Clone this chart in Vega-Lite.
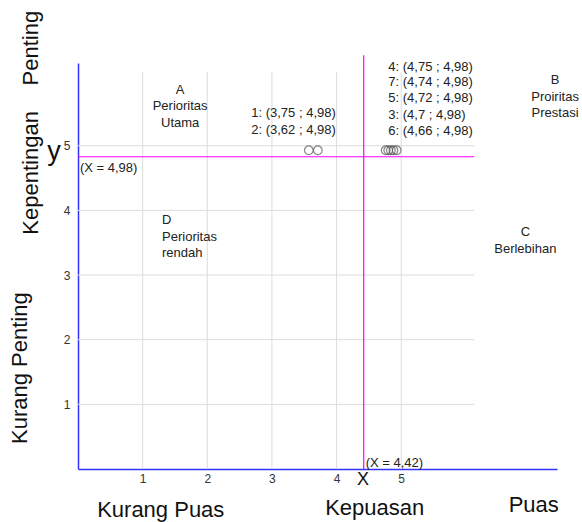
{
  "$schema": "https://vega.github.io/schema/vega-lite/v6.json",
  "width": 479,
  "height": 406,
  "autosize": {"type": "none"},
  "padding": {"left": 78, "top": 63, "right": 25, "bottom": 53},
  "background": "white",
  "config": {
    "view": {"stroke": null},
    "font": "Liberation Sans",
    "text": {"font": "Liberation Sans", "color": "#222222"}
  },
  "datasets": {
    "vgrid": [{"x": 1, "y": 0, "y2": 6.14}, {"x": 2, "y": 0, "y2": 6.14}, {"x": 3, "y": 0, "y2": 6.14}, {"x": 4, "y": 0, "y2": 6.14}, {"x": 5, "y": 0, "y2": 6.14}],
    "hgrid": [{"y": 1, "x": 0, "x2": 6.13}, {"y": 2, "x": 0, "x2": 6.13}, {"y": 3, "x": 0, "x2": 6.13}, {"y": 4, "x": 0, "x2": 6.13}, {"y": 5, "x": 0, "x2": 6.13}],
    "means": [
      {"x": 4.42, "x2": 4.42, "y": 0, "y2": 6.4},
      {"x": 0, "x2": 6.13, "y": 4.83, "y2": 4.83}
    ],
    "points": [
      {"id": "2", "x": 3.57, "y": 4.93},
      {"id": "1", "x": 3.71, "y": 4.93},
      {"id": "6", "x": 4.76, "y": 4.93},
      {"id": "3", "x": 4.8, "y": 4.93},
      {"id": "5", "x": 4.84, "y": 4.93},
      {"id": "7", "x": 4.88, "y": 4.93},
      {"id": "4", "x": 4.93, "y": 4.93}
    ],
    "rotTitles": [
      {"t": "Penting", "x": -0.72, "y": 6.51},
      {"t": "Kepentingan", "x": -0.72, "y": 4.58},
      {"t": "Kurang Penting", "x": -0.89, "y": 1.56}
    ],
    "bottomTitles": [
      {"t": "Kurang Puas", "x": 1.28, "y": -0.64},
      {"t": "Kepuasan", "x": 4.59, "y": -0.6},
      {"t": "Puas", "x": 7.05, "y": -0.56}
    ],
    "centerLabels": [
      {"t": "A", "x": 1.58, "y": 5.87},
      {"t": "Perioritas", "x": 1.58, "y": 5.61},
      {"t": "Utama", "x": 1.58, "y": 5.35},
      {"t": "B", "x": 7.38, "y": 6.02},
      {"t": "Proiritas", "x": 7.38, "y": 5.75},
      {"t": "Prestasi", "x": 7.38, "y": 5.5},
      {"t": "C", "x": 6.92, "y": 3.66},
      {"t": "Berlebihan", "x": 6.92, "y": 3.41}
    ],
    "leftLabels": [
      {"t": "D", "x": 1.3, "y": 3.85},
      {"t": "Perioritas", "x": 1.3, "y": 3.59},
      {"t": "rendah", "x": 1.3, "y": 3.34},
      {"t": "1: (3,75 ; 4,98)", "x": 2.68, "y": 5.5},
      {"t": "2: (3,62 ; 4,98)", "x": 2.68, "y": 5.24},
      {"t": "4: (4,75 ; 4,98)", "x": 4.8, "y": 6.22},
      {"t": "7: (4,74 ; 4,98)", "x": 4.8, "y": 5.99},
      {"t": "5: (4,72 ; 4,98)", "x": 4.8, "y": 5.74},
      {"t": "3: (4,7 ; 4,98)", "x": 4.8, "y": 5.48},
      {"t": "6: (4,66 ; 4,98)", "x": 4.8, "y": 5.23}
    ],
    "meanLabels": [
      {"t": "(X = 4,98)", "x": 0.03, "y": 4.65},
      {"t": "(X = 4,42)", "x": 4.45, "y": 0.1}
    ],
    "axisLetterY": [{"t": "y", "x": -0.37, "y": 4.78}],
    "axisLetterX": [{"t": "X", "x": 4.41, "y": -0.175}]
  },
  "layer": [
    {
      "data": {"name": "vgrid"},
      "mark": {"type": "rule", "color": "#dddddd", "strokeWidth": 1},
      "encoding": {
        "x": {"field": "x", "type": "quantitative", "title": null,
          "scale": {"domain": [0, 7.41], "nice": false, "zero": false},
          "axis": {"values": [1, 2, 3, 4, 5], "format": "d", "grid": false, "ticks": false, "domainColor": "#3333ff", "domainWidth": 1.5, "labelPadding": 4, "labelFontSize": 12, "labelColor": "#333333", "labelFont": "Liberation Sans", "title": null}},
        "y": {"field": "y", "type": "quantitative", "title": null,
          "scale": {"domain": [0, 6.28], "nice": false, "zero": false},
          "axis": {"values": [1, 2, 3, 4, 5], "format": "d", "grid": false, "ticks": false, "domainColor": "#3333ff", "domainWidth": 1.5, "labelPadding": 8, "labelFontSize": 12, "labelColor": "#333333", "labelFont": "Liberation Sans", "title": null}},
        "y2": {"field": "y2"}
      }
    },
    {
      "data": {"name": "hgrid"},
      "mark": {"type": "rule", "color": "#dddddd", "strokeWidth": 1},
      "encoding": {
        "x": {"field": "x", "type": "quantitative", "title": null},
        "x2": {"field": "x2"},
        "y": {"field": "y", "type": "quantitative", "title": null}
      }
    },
    {
      "data": {"name": "means"},
      "mark": {"type": "rule", "color": "#ff00ff", "strokeWidth": 1.2},
      "encoding": {
        "x": {"field": "x", "type": "quantitative", "title": null},
        "x2": {"field": "x2"},
        "y": {"field": "y", "type": "quantitative", "title": null},
        "y2": {"field": "y2"}
      }
    },
    {
      "data": {"name": "points"},
      "mark": {"type": "point", "shape": "circle", "filled": false, "stroke": "#555555", "strokeWidth": 1.2, "size": 75},
      "encoding": {
        "x": {"field": "x", "type": "quantitative", "title": null},
        "y": {"field": "y", "type": "quantitative", "title": null}
      }
    },
    {
      "data": {"name": "rotTitles"},
      "mark": {"type": "text", "angle": 270, "fontSize": 22, "align": "center", "baseline": "middle", "color": "#111111"},
      "encoding": {
        "x": {"field": "x", "type": "quantitative", "title": null},
        "y": {"field": "y", "type": "quantitative", "title": null},
        "text": {"field": "t"}
      }
    },
    {
      "data": {"name": "bottomTitles"},
      "mark": {"type": "text", "fontSize": 22, "align": "center", "baseline": "middle", "color": "#111111"},
      "encoding": {
        "x": {"field": "x", "type": "quantitative", "title": null},
        "y": {"field": "y", "type": "quantitative", "title": null},
        "text": {"field": "t"}
      }
    },
    {
      "data": {"name": "centerLabels"},
      "mark": {"type": "text", "fontSize": 13, "align": "center", "baseline": "middle"},
      "encoding": {
        "x": {"field": "x", "type": "quantitative", "title": null},
        "y": {"field": "y", "type": "quantitative", "title": null},
        "text": {"field": "t"}
      }
    },
    {
      "data": {"name": "leftLabels"},
      "mark": {"type": "text", "fontSize": 13, "align": "left", "baseline": "middle"},
      "encoding": {
        "x": {"field": "x", "type": "quantitative", "title": null},
        "y": {"field": "y", "type": "quantitative", "title": null},
        "text": {"field": "t"}
      }
    },
    {
      "data": {"name": "meanLabels"},
      "mark": {"type": "text", "fontSize": 13, "align": "left", "baseline": "middle"},
      "encoding": {
        "x": {"field": "x", "type": "quantitative", "title": null},
        "y": {"field": "y", "type": "quantitative", "title": null},
        "text": {"field": "t"}
      }
    },
    {
      "data": {"name": "axisLetterY"},
      "mark": {"type": "text", "fontSize": 27, "align": "center", "baseline": "alphabetic", "color": "#111111"},
      "encoding": {
        "x": {"field": "x", "type": "quantitative", "title": null},
        "y": {"field": "y", "type": "quantitative", "title": null},
        "text": {"field": "t"}
      }
    },
    {
      "data": {"name": "axisLetterX"},
      "mark": {"type": "text", "fontSize": 18, "align": "center", "baseline": "middle", "color": "#111111"},
      "encoding": {
        "x": {"field": "x", "type": "quantitative", "title": null},
        "y": {"field": "y", "type": "quantitative", "title": null},
        "text": {"field": "t"}
      }
    }
  ]
}
